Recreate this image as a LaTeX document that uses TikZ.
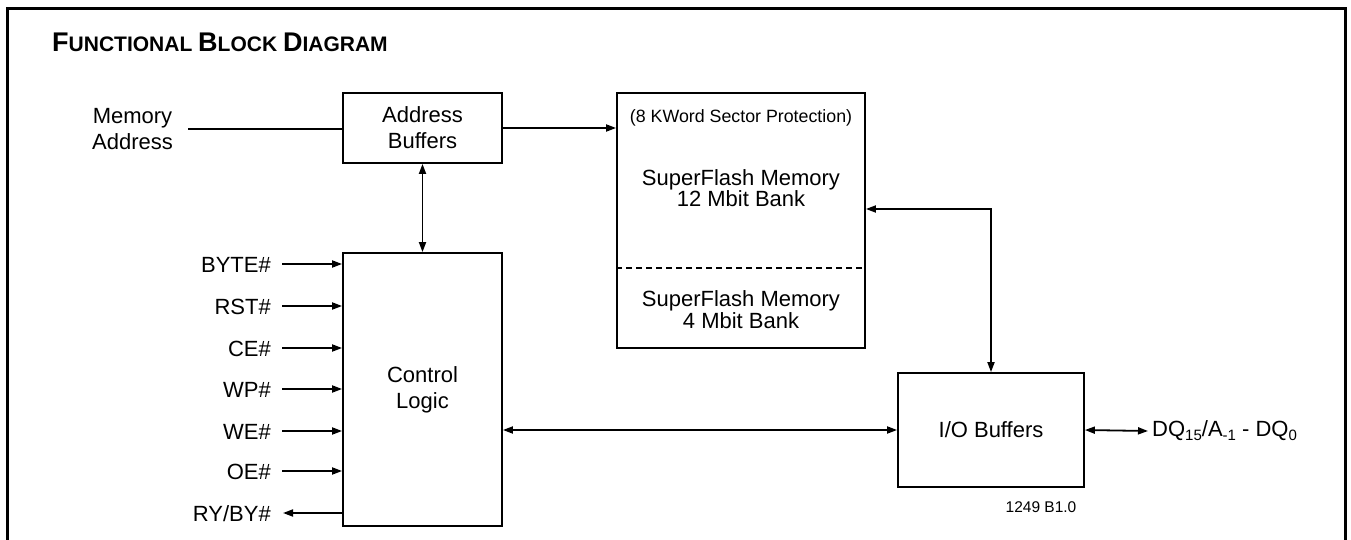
\documentclass[tikz,border=0pt]{standalone}
\usepackage{fontspec}
\setmainfont{Liberation Sans}
\usetikzlibrary{arrows.meta,calc}
\newcommand{\fsz}[1]{\fontsize{#1}{#1}\selectfont}
\newcommand{\lowsub}[1]{\raisebox{-0.35ex}{\fsz{15}#1}}
\tikzset{
  conn/.style={line width=1.8pt, line cap=butt},
  arr/.style={conn, -{Triangle[length=10pt,width=7pt]}},
  darr/.style={conn, {Triangle[length=10pt,width=7pt]}-{Triangle[length=10pt,width=7pt]}},
  blk/.style={draw, line width=1.8pt, inner sep=0pt, align=center,
              font=\fontsize{22}{26}\selectfont},
  lbl/.style={inner sep=0pt, font=\fontsize{22}{26}\selectfont},
}
\begin{document}
\begin{tikzpicture}[x=1pt,y=-1pt]
\useasboundingbox (0,0) rectangle (1351,540);
\fill[white] (0,0) rectangle (1351,540);
% frame
\draw[line width=3pt] (7,560) -- (7,9) -- (1345,9) -- (1345,560);
% title
\node[anchor=base west, inner sep=0pt, font=\bfseries] (title) at (52,52)
  {\fsz{27}F\fsz{21}UNCTIONAL \fsz{27}B\fsz{21}LOCK \fsz{27}D\fsz{21}IAGRAM};
% blocks
\node[blk, minimum width=159pt, minimum height=70pt] (addr) at (422.5,128)
  {Address\\Buffers};
\node[draw, line width=1.8pt, minimum width=248pt, minimum height=255pt, inner sep=0pt] (mem) at (741,220.5) {};
\node[blk, minimum width=159pt, minimum height=273pt] (ctrl) at (422.5,389.5)
  {Control\\Logic};
\node[blk, minimum width=186pt, minimum height=114pt] (io) at (991,430)
  {I/O Buffers};
% memory contents
\node[anchor=base, inner sep=0pt, font=\fsz{17.8}] (prot) at (741,123) {(8 KWord Sector Protection)};
\node[anchor=base, inner sep=0pt, align=center, font=\fontsize{22}{19.5}\selectfont] (bank1) at (741,207)
  {SuperFlash Memory\\12 Mbit Bank};
\node[anchor=base, inner sep=0pt, align=center, font=\fontsize{22}{20}\selectfont] (bank2) at (741,328)
  {SuperFlash Memory\\4 Mbit Bank};
\coordinate (dl) at (mem.west |- 0,268);
\draw[line width=1.5pt, dash pattern=on 6pt off 4pt] (dl) -- (dl -| mem.east);
% memory address input
\node[lbl, align=center] (maddr) at (132.5,129) {Memory\\Address};
\coordinate (ma) at (188,129);
\draw[conn] (ma) -- (ma -| addr.west);
% address buffers to memory
\draw[arr] (addr.east) -- (addr.east -| mem.west);
% address buffers <-> control logic
\draw[darr] (addr.south) -- (ctrl.north);
% memory <-> io
\coordinate (mr) at (mem.east |- 0,209);
\draw[darr] (mr) -| (io.north);
% control <-> io
\draw[darr] (io.west -| ctrl.east) -- (io.west);
% DQ
\node[anchor=west, inner sep=4pt, font=\fsz{22}] (dq) at (1148,431)
  {DQ\lowsub{15}/A\lowsub{-1} - DQ\lowsub{0}};
\draw[darr] (io.east) -- (dq.west);
% figure number
\node[anchor=base, inner sep=0pt, font=\fsz{15.5}] (fig) at (1041,512) {1249 B1.0};
% control inputs
\foreach \nm/\yy in {BYTE\#/264, RST\#/306, CE\#/348, WP\#/389, WE\#/431, OE\#/471} {
  \node[lbl, anchor=base east] (l\yy) at (271,\yy+8) {\nm};
  \coordinate (s\yy) at (282,\yy);
  \draw[arr] (s\yy) -- (s\yy -| ctrl.west);
}
\node[lbl, anchor=base east] (lry) at (271,521) {RY/BY\#};
\coordinate (ry) at (283,513);
\draw[arr] (ry -| ctrl.west) -- (ry);
\end{tikzpicture}
\end{document}
